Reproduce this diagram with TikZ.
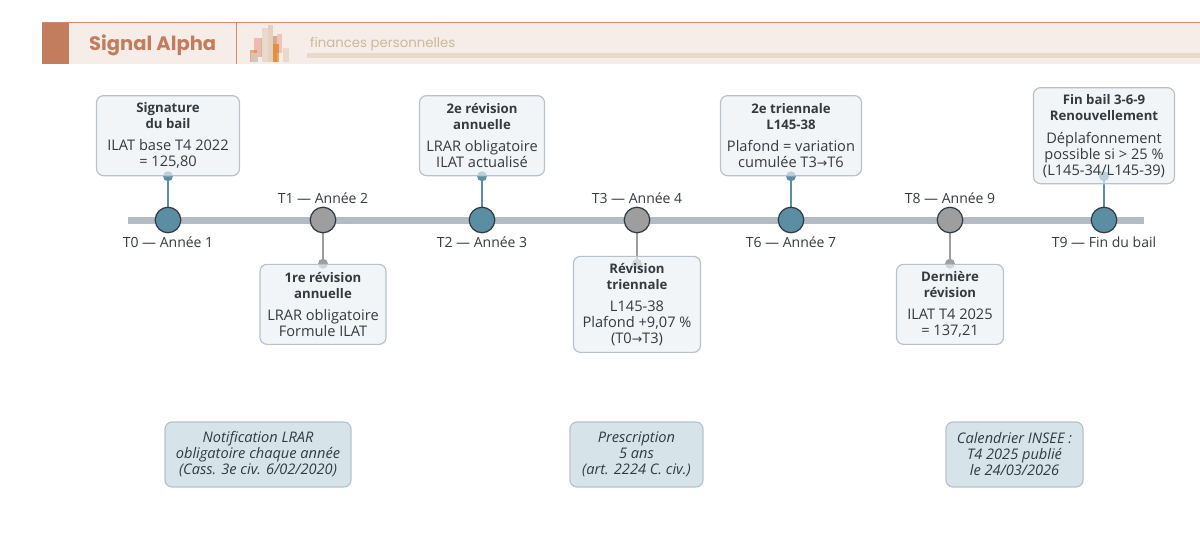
\documentclass[tikz,border=0pt]{standalone}
\usepackage{fontspec}
\usepackage{xcolor}
\setmainfont{Open Sans}
\newfontfamily\brandfont{Poppins}
\newfontfamily\arrowfont{DejaVu Sans}
\usetikzlibrary{positioning,backgrounds}
\definecolor{brand}{HTML}{C27C5E}
\definecolor{brandline}{HTML}{CF8A6E}
\definecolor{bandfill}{HTML}{F6EDE8}
\definecolor{bandstrip}{HTML}{E8D9CC}
\definecolor{subtext}{HTML}{CDB8A0}
\definecolor{axisgray}{HTML}{B4BBC4}
\definecolor{teal}{HTML}{5B8EA3}
\definecolor{midgray}{HTML}{9E9E9E}
\definecolor{ringdark}{HTML}{2F3B44}
\definecolor{boxline}{HTML}{B8C2CC}
\definecolor{boxfill}{HTML}{EAF0F5}
\definecolor{notefill}{HTML}{D6E4E9}
\definecolor{inktext}{HTML}{333A40}
\newcommand{\toarrow}{{\arrowfont\fontsize{12.5}{16}\selectfont →}}
\newcommand{\boxhead}[1]{{\fontsize{13.2}{16}\selectfont\bfseries #1}}
\begin{document}
\begin{tikzpicture}
	[x=1pt,y=-1pt,
		% STYLES
		every node/.style={font=\fontsize{14.6}{16}\selectfont, text=inktext},
		% Circles sitting on the time axis
		stepkey/.style={circle, draw=ringdark, line width=1.2pt, fill=teal, minimum size=25.5pt, inner sep=0pt, outer sep=0pt},
		stepopt/.style={stepkey, fill=midgray},
		% Small dots at the end of a stem
		stemdot/.style={circle, fill=teal, minimum size=10pt, inner sep=0pt, outer sep=0pt},
		stemdotopt/.style={stemdot, fill=midgray},
		% Labels of the steps
		steplabel/.style={inner sep=0pt, font=\fontsize{14}{16}\selectfont},
		% Boxes with the details
		detail/.style={rectangle, rounded corners=7pt, draw=boxline, line width=1.2pt, fill=boxfill, fill opacity=.68, text opacity=1, align=center, inner sep=0pt, minimum height=80pt, node distance=31pt},
		note/.style={rectangle, rounded corners=7pt, draw=boxline, line width=1.2pt, fill=notefill, align=center, inner sep=0pt, minimum height=65pt, font=\fontsize{14.6}{16}\selectfont\itshape}]
	\useasboundingbox (0,0) rectangle (1200,541);

	% Header band
	\fill[bandfill] (42,22) rectangle (1200,64);
	\fill[brand] (42,22) rectangle (69,64);
	\draw[brandline, line width=1pt] (42,22) -- (1200,22);
	\draw[brandline, line width=1pt] (236,22) -- (236,64);
	\fill[bandstrip] (307,53) rectangle (1200,58);
	\fill[red!40!brand, opacity=.3] (254,38) rectangle (262,57);
	\fill[brown!40!bandstrip] (261,38) rectangle (262,57);
	\fill[orange!50!brand, opacity=.6] (250,50) rectangle (257,62);
	\fill[bandstrip!80!gray] (251,53) rectangle (258,62);
	\fill[bandstrip] (262,28) rectangle (269,62);
	\fill[bandstrip!90!brown] (268,25) rectangle (273,62);
	\fill[brown!50!bandstrip] (273,36) rectangle (277,62);
	\fill[orange!70!brown, opacity=.65] (273,44) rectangle (279,62);
	\fill[red!40!brand, opacity=.25] (277,34) rectangle (282,53);
	\fill[bandstrip] (283,48) rectangle (289,62);
	\node[font=\fontsize{19.5}{24}\brandfont\bfseries, text=brand, anchor=west, inner sep=0pt] (brandname) at (89,45) {Signal Alpha};
	\node[font=\fontsize{13.3}{18}\brandfont, text=subtext, anchor=west, inner sep=0pt] (brandsub) at (310,44) {finances personnelles};

	% Draw steps
	\node [stepkey] (t0) at (168,220) {};
	\node [stepopt] (t1) at (323,220) {};
	\node [stepkey] (t2) at (482,220) {};
	\node [stepopt] (t3) at (637,220) {};
	\node [stepkey] (t6) at (791,220) {};
	\node [stepopt] (t8) at (950,220) {};
	\node [stepkey] (t9) at (1104,220) {};

	% Labels
	\node [steplabel, below=4pt of t0] (l0) {T0 — Année 1};
	\node [steplabel, above=3pt of t1] (l1) {T1 — Année 2};
	\node [steplabel, below=4pt of t2] (l2) {T2 — Année 3};
	\node [steplabel, above=3pt of t3] (l3) {T3 — Année 4};
	\node [steplabel, below=4pt of t6] (l6) {T6 — Année 7};
	\node [steplabel, above=3pt of t8] (l8) {T8 — Année 9};
	\node [steplabel, below=4pt of t9] (l9) {T9 — Fin du bail};

	% Axis, stems and dots go behind everything
	\begin{scope}[on background layer]
		\coordinate (axisstart) at (128,220);
		\coordinate (axisend) at (1144,220);
		\draw[axisgray, line width=7pt] (axisstart) -- (axisend);
		\node [stemdot, above=26pt of t0] (d0) {};
		\node [stemdotopt, below=26pt of t1] (d1) {};
		\node [stemdot, above=26pt of t2] (d2) {};
		\node [stemdotopt, below=26pt of t3] (d3) {};
		\node [stemdot, above=26pt of t6] (d6) {};
		\node [stemdotopt, below=26pt of t8] (d8) {};
		\node [stemdot, above=26pt of t9] (d9) {};
		\path[teal, line width=1.5pt]
		(t0) edge (d0)
		(t2) edge (d2)
		(t6) edge (d6)
		(t9) edge (d9);
		\path[midgray, line width=1.5pt]
		(t1) edge (d1)
		(t3) edge (d3)
		(t8) edge (d8);
	\end{scope}

	% Draw boxes
	\node [detail, minimum width=143pt, above=of t0] (a) {\boxhead{Signature}\\\boxhead{du bail}\\[6pt]ILAT base T4 2022\\= 125,80};
	\node [detail, minimum width=126pt, below=of t1] (b) {\boxhead{1re révision}\\\boxhead{annuelle}\\[6pt]LRAR obligatoire\\Formule ILAT};
	\node [detail, minimum width=125pt, above=of t2] (c) {\boxhead{2e révision}\\\boxhead{annuelle}\\[6pt]LRAR obligatoire\\ILAT actualisé};
	\node [detail, minimum width=127pt, minimum height=96pt, below=23pt of t3] (d) {\boxhead{Révision}\\\boxhead{triennale}\\[6pt]L145-38\\Plafond +9,07 \%\\(T0\toarrow T3)};
	\node [detail, minimum width=141pt, above=of t6] (e) {\boxhead{2e triennale}\\\boxhead{L145-38}\\[6pt]Plafond = variation\\cumulée T3\toarrow T6};
	\node [detail, minimum width=107pt, below=of t8] (f) {\boxhead{Dernière}\\\boxhead{révision}\\[6pt]ILAT T4 2025\\= 137,21};
	\node [detail, minimum width=141pt, minimum height=96pt, above=23pt of t9] (g) {\boxhead{Fin bail 3-6-9}\\\boxhead{Renouvellement}\\[7pt]Déplafonnement\\possible si > 25 \%\\(L145-34/L145-39)};

	% Draw notes
	\node [note, minimum width=186pt] (n1) at (258,454.5) {Notification LRAR\\obligatoire chaque année\\(Cass. 3e civ. 6/02/2020)};
	\node [note, minimum width=133pt] (n2) at (636.5,454.5) {Prescription\\5 ans\\(art. 2224 C. civ.)};
	\node [note, minimum width=137pt] (n3) at (1014.5,454.5) {Calendrier INSEE :\\T4 2025 publié\\le 24/03/2026};
\end{tikzpicture}
\end{document}
